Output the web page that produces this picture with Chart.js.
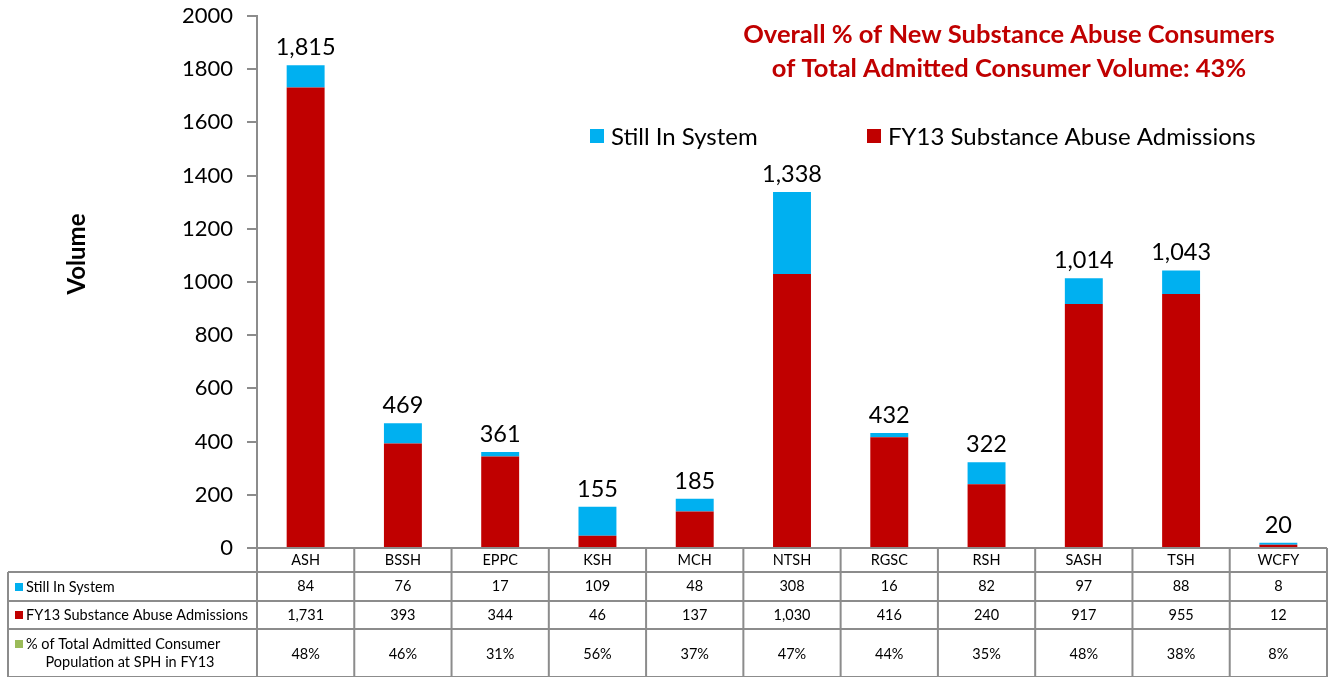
<!DOCTYPE html>
<html>
<head>
<meta charset="utf-8">
<script src="https://cdn.jsdelivr.net/npm/chart.js@4"></script>
<style>
    html, body { margin: 0; padding: 0; background: #fff; }
    #wrap { width: 1333px; height: 677px; position: relative; }
</style>
</head>
<body>
<div id="wrap"><canvas id="chart"></canvas></div>
<script>
const hospitals = ['ASH', 'BSSH', 'EPPC', 'KSH', 'MCH', 'NTSH', 'RGSC', 'RSH', 'SASH', 'TSH', 'WCFY'];
const stillInSystem = [84, 76, 17, 109, 48, 308, 16, 82, 97, 88, 8];
const admissions = [1731, 393, 344, 46, 137, 1030, 416, 240, 917, 955, 12];
const pctOfTotal = ['48%', '46%', '31%', '56%', '37%', '47%', '44%', '35%', '48%', '38%', '8%'];
const yTicks = [0, 200, 400, 600, 800, 1000, 1200, 1400, 1600, 1800, 2000];

const FONT = 'Lato, "Open Sans", sans-serif';
const RED = '#C00000';
const CYAN = '#00B0F0';
const GREEN = '#9BBB59';
const GRID = '#8C8C8C';

// stacked totals shown above each bar
function _totals() {
    return hospitals.map((h, i) => admissions[i] + stillInSystem[i]);
}

const tablePlugin = {
    id: 'tablePlugin',
    afterDraw(chart) {
        const ctx = chart.ctx;
        const x = chart.scales.x;
        const area = chart.chartArea;
        const colW = (area.right - area.left) / hospitals.length;
        const rows = [area.bottom, 572, 601, 629, 677];
        const labelLeft = 8;

        ctx.save();

        // totals above bars
        const meta = chart.getDatasetMeta(1);
        ctx.fillStyle = '#000';
        ctx.font = '23.5px ' + FONT;
        ctx.textAlign = 'center';
        ctx.textBaseline = 'bottom';
        _totals().forEach((t, i) => {
            const bar = meta.data[i];
            ctx.fillText(t.toLocaleString('en-US'), bar.x, bar.y - 6);
        });

        // y axis title
        ctx.save();
        ctx.translate(77, 254);
        ctx.rotate(-Math.PI / 2);
        ctx.font = 'bold 24px ' + FONT;
        ctx.textAlign = 'center';
        ctx.textBaseline = 'middle';
        ctx.fillText('Volume', 0, 0);
        ctx.restore();

        // headline
        ctx.fillStyle = RED;
        ctx.font = 'bold 25.5px ' + FONT;
        ctx.textAlign = 'center';
        ctx.textBaseline = 'middle';
        ctx.fillText('Overall % of New Substance Abuse Consumers', 1009, 35);
        ctx.fillText('of Total Admitted Consumer Volume: 43%', 1009, 69);

        // legend
        ctx.font = '24px ' + FONT;
        ctx.textAlign = 'left';
        const legend = [
            { label: 'Still In System', color: CYAN, x: 590 },
            { label: 'FY13 Substance Abuse Admissions', color: RED, x: 867 }
        ];
        legend.forEach(l => {
            ctx.fillStyle = l.color;
            ctx.fillRect(l.x, 129, 14, 14);
            ctx.fillStyle = '#000';
            ctx.fillText(l.label, l.x + 21, 137);
        });

        // table grid
        ctx.strokeStyle = GRID;
        ctx.lineWidth = 2;
        ctx.beginPath();
        for (let r = 0; r < rows.length; r++) {
            const left = r === 0 ? area.left : labelLeft;
            ctx.moveTo(left, rows[r]);
            ctx.lineTo(area.right, rows[r]);
        }
        for (let c = 0; c <= hospitals.length; c++) {
            const cx = area.left + c * colW;
            ctx.moveTo(cx, rows[0]);
            ctx.lineTo(cx, rows[4]);
        }
        ctx.moveTo(labelLeft, rows[1]);
        ctx.lineTo(labelLeft, rows[4]);
        ctx.stroke();

        // table text
        ctx.fillStyle = '#000';
        ctx.font = '14.5px ' + FONT;
        ctx.textAlign = 'center';
        ctx.textBaseline = 'middle';
        hospitals.forEach((h, i) => {
            const cx = x.getPixelForValue(i);
            ctx.fillText(h, cx, (rows[0] + rows[1]) / 2);
            ctx.fillText(stillInSystem[i].toLocaleString('en-US'), cx, (rows[1] + rows[2]) / 2);
            ctx.fillText(admissions[i].toLocaleString('en-US'), cx, (rows[2] + rows[3]) / 2);
            ctx.fillText(pctOfTotal[i], cx, 654);
        });

        // row labels with small keys
        ctx.textAlign = 'left';
        const keys = [
            { color: CYAN, lines: ['Still In System'], y: 587 },
            { color: RED, lines: ['FY13 Substance Abuse Admissions'], y: 615 },
            { color: GREEN, lines: ['% of Total Admitted Consumer', 'Population at SPH in FY13'], y: 644 }
        ];
        keys.forEach(k => {
            ctx.fillStyle = k.color;
            ctx.fillRect(15, k.y - 4, 8, 8);
            ctx.fillStyle = '#000';
            ctx.fillText(k.lines[0], 26, k.y);
            if (k.lines[1]) {
                ctx.textAlign = 'center';
                ctx.fillText(k.lines[1], 130, k.y + 18);
                ctx.textAlign = 'left';
            }
        });

        ctx.restore();
    }
};

new Chart(document.getElementById('chart'), {
    type: 'bar',
    data: {
        labels: hospitals,
        datasets: [
            {
                label: 'FY13 Substance Abuse Admissions',
                data: admissions,
                backgroundColor: RED
            },
            {
                label: 'Still In System',
                data: stillInSystem,
                backgroundColor: CYAN
            }
        ]
    },
    options: {
        maintainAspectRatio: false,
        animation: false,
        layout: {
            padding: { left: 0, top: 16, right: 6, bottom: 129 }
        },
        datasets: {
            bar: {
                categoryPercentage: 1.0,
                barPercentage: 0.39
            }
        },
        scales: {
            x: {
                stacked: true,
                grid: { display: false },
                ticks: { display: false },
                border: { display: false },
                afterFit: function(scale) {
                    scale.height = 0;
                }
            },
            y: {
                stacked: true,
                min: 0,
                max: 2000,
                afterBuildTicks: function(scale) {
                    scale.ticks = yTicks.map(v => ({ value: v }));
                },
                afterFit: function(scale) {
                    scale.width = 257;
                    scale.paddingTop = 0;
                    scale.paddingBottom = 0;
                },
                grid: {
                    drawOnChartArea: false,
                    drawTicks: true,
                    tickLength: 10,
                    color: GRID,
                    lineWidth: 2
                },
                border: { color: GRID, width: 2 },
                ticks: {
                    color: '#000',
                    padding: 14,
                    font: { family: FONT, size: 22 },
                    callback: function(value) {
                        return String(value);
                    }
                }
            }
        },
        plugins: {
            legend: { display: false },
            tooltip: { enabled: false }
        }
    },
    plugins: [tablePlugin]
});
</script>
</body>
</html>
